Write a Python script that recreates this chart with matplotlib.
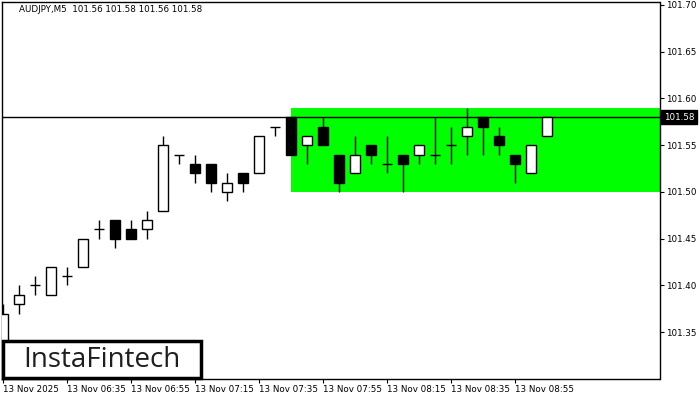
import matplotlib
matplotlib.use('Agg')
import matplotlib.pyplot as plt
from matplotlib.patches import Rectangle

# AUDJPY M5 candles, 13 Nov 2025 from 06:15
opens = [101.32, 101.38, 101.40, 101.39, 101.41, 101.42, 101.46, 101.47, 101.46, 101.46,
         101.48, 101.54, 101.53, 101.53, 101.50, 101.52, 101.52, 101.57, 101.58, 101.55,
         101.57, 101.54, 101.52, 101.55, 101.53, 101.54, 101.54, 101.54, 101.55, 101.56,
         101.58, 101.56, 101.54, 101.52, 101.56]
highs = [101.38, 101.40, 101.41, 101.42, 101.42, 101.45, 101.47, 101.47, 101.47, 101.48,
         101.56, 101.54, 101.54, 101.53, 101.52, 101.52, 101.56, 101.57, 101.58, 101.56,
         101.58, 101.54, 101.56, 101.55, 101.56, 101.54, 101.55, 101.58, 101.57, 101.59,
         101.58, 101.57, 101.54, 101.55, 101.58]
lows = [101.31, 101.37, 101.39, 101.39, 101.40, 101.42, 101.45, 101.44, 101.45, 101.45,
        101.48, 101.53, 101.51, 101.50, 101.49, 101.50, 101.52, 101.56, 101.54, 101.53,
        101.55, 101.50, 101.52, 101.53, 101.52, 101.50, 101.53, 101.53, 101.53, 101.54,
        101.54, 101.54, 101.51, 101.52, 101.56]
closes = [101.37, 101.39, 101.40, 101.42, 101.41, 101.45, 101.46, 101.45, 101.45, 101.47,
          101.55, 101.54, 101.52, 101.51, 101.51, 101.51, 101.56, 101.57, 101.54, 101.56,
          101.55, 101.51, 101.54, 101.54, 101.53, 101.53, 101.55, 101.54, 101.55, 101.57,
          101.57, 101.55, 101.53, 101.55, 101.58]

time_labels = ['13 Nov 2025', '13 Nov 06:35', '13 Nov 06:55', '13 Nov 07:15', '13 Nov 07:35',
               '13 Nov 07:55', '13 Nov 08:15', '13 Nov 08:35', '13 Nov 08:55']
time_ticks = [0, 4, 8, 12, 16, 20, 24, 28, 32]
price_ticks = [101.35, 101.40, 101.45, 101.50, 101.55, 101.60, 101.65, 101.70]

zone_start = 18
zone_low, zone_high = 101.50, 101.59
last_price = 101.58
title = 'AUDJPY,M5  101.56 101.58 101.56 101.58'

plt.rcParams['font.family'] = 'DejaVu Sans'
fig = plt.figure(figsize=(7, 4), dpi=100)
ax = fig.add_axes([2 / 700, 21 / 400, 657.5 / 700, 377 / 400])
ax.set_xlim(-0.06, 41.03)
ax.set_ylim(101.30, 101.7032)

for s in ax.spines.values():
    s.set_linewidth(1.0)
    s.set_color('black')

# pattern zone
ax.add_patch(Rectangle((zone_start, zone_low), 50, zone_high - zone_low,
                       facecolor='#00ff00', edgecolor='none', zorder=1))
ax.axhline(last_price, color='black', lw=1.0, zorder=2)

w = 0.64
for i, (o, h, l, c) in enumerate(zip(opens, highs, lows, closes)):
    ax.vlines(i, l, h, color='black', lw=1.0, zorder=3)
    if o == c:
        ax.hlines(o, i - w / 2, i + w / 2, color='black', lw=1.0, zorder=4)
    else:
        fc = 'white' if c > o else 'black'
        ax.add_patch(Rectangle((i - w / 2, min(o, c)), w, abs(c - o),
                               facecolor=fc, edgecolor='black', lw=1.0, zorder=4))

ax.yaxis.tick_right()
ax.set_yticks(price_ticks)
ax.set_yticklabels([f'{p:.2f}' for p in price_ticks])
ax.set_xticks(time_ticks)
ax.set_xticklabels(time_labels, ha='left')
ax.tick_params(axis='both', labelsize=6.3, length=3, width=0.8, direction='out', pad=2)
ax.tick_params(axis='x', pad=1)

ax.text(1.007, last_price, f'{last_price:.2f}', transform=ax.get_yaxis_transform(),
        va='center', ha='left', fontsize=6.3, color='white', zorder=10, clip_on=False,
        bbox=dict(boxstyle='square,pad=0.3', fc='black', ec='black'))

ax.text(17 / 657.5, 1 - 8 / 377, title, transform=ax.transAxes,
        va='center', ha='left', fontsize=6.3, color='black')

# logo
fig.add_artist(Rectangle((3 / 700, 22 / 400), 198 / 700, 37 / 400, transform=fig.transFigure,
                         facecolor='white', edgecolor='black', lw=2.5, zorder=20))
fig.text(102 / 700, 1 - 360 / 400, 'InstaFintech', ha='center', va='center',
         fontsize=20, family='Open Sans', weight='medium', color='#1e1e1e', zorder=21)

fig.savefig('out.png', dpi=100)
